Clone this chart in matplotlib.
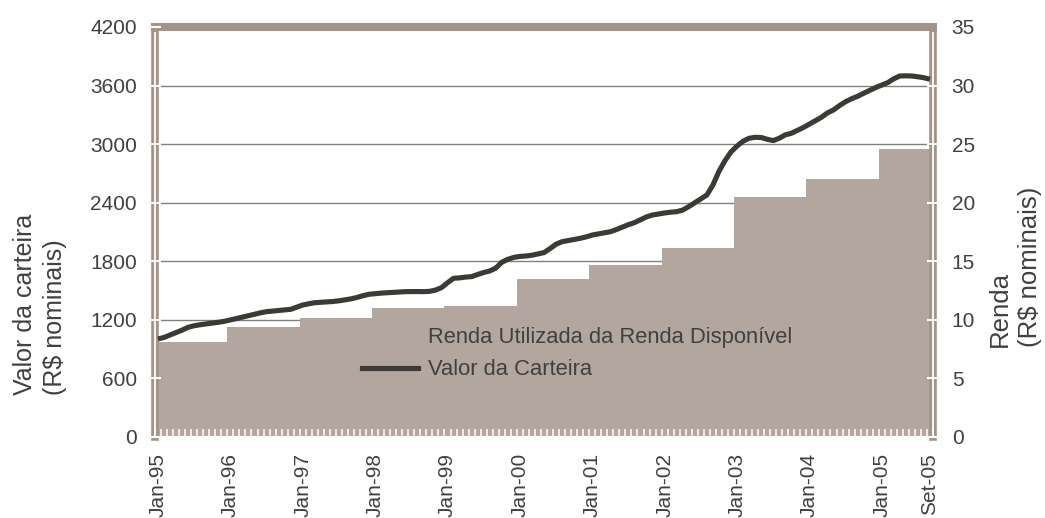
import numpy as np
import matplotlib
matplotlib.use('Agg')
import matplotlib.pyplot as plt
from matplotlib.lines import Line2D
from matplotlib.patches import Patch

plt.rcParams['font.family'] = ['Liberation Sans', 'DejaVu Sans']

# ---------------- data ----------------
valor_carteira = [
    # 1995
    1004, 1020, 1045, 1069, 1095, 1124, 1140, 1150, 1158, 1165, 1175, 1185,
    # 1996
    1199, 1212, 1228, 1243, 1258, 1272, 1284, 1290, 1296, 1302, 1308, 1330,
    # 1997
    1352, 1365, 1376, 1380, 1384, 1388, 1395, 1405, 1415, 1430, 1448, 1462,
    # 1998
    1468, 1474, 1478, 1482, 1486, 1489, 1490, 1490, 1489, 1492, 1505, 1530,
    # 1999
    1580, 1626, 1630, 1638, 1643, 1665, 1685, 1701, 1730, 1790, 1820, 1840,
    # 2000
    1850, 1854, 1862, 1875, 1889, 1930, 1975, 2001, 2012, 2022, 2035, 2050,
    # 2001
    2069, 2080, 2092, 2103, 2125, 2150, 2175, 2196, 2225, 2255, 2274, 2285,
    # 2002
    2295, 2303, 2308, 2325, 2360, 2400, 2440, 2479, 2580, 2720, 2830, 2920,
    # 2003
    2980, 3030, 3060, 3070, 3068, 3050, 3036, 3060, 3095, 3111, 3140, 3170,
    # 2004
    3205, 3240, 3275, 3320, 3350, 3395, 3435, 3465, 3490, 3521, 3550, 3580,
    # 2005 (Jan-Set)
    3605, 3630, 3670, 3698, 3700, 3698, 3690, 3680, 3665,
]
renda_anual = [8.1, 9.4, 10.2, 11.05, 11.2, 13.5, 14.7, 16.1, 20.5, 22.0, 24.55]
meses_por_ano = [12, 12, 12, 12, 12, 12, 12, 12, 12, 12, 9]
tick_pos = [0, 12, 24, 36, 48, 60, 72, 84, 96, 108, 120, 128]
tick_labels = ['Jan-95', 'Jan-96', 'Jan-97', 'Jan-98', 'Jan-99', 'Jan-00',
               'Jan-01', 'Jan-02', 'Jan-03', 'Jan-04', 'Jan-05', 'Set-05']
left_ticks = [0, 600, 1200, 1800, 2400, 3000, 3600, 4200]
right_ticks = [0, 5, 10, 15, 20, 25, 30, 35]

renda_mensal = np.repeat(renda_anual, meses_por_ano)
x = np.arange(len(valor_carteira))
edges = np.arange(len(x) + 1) - 0.5

# ---------------- style ----------------
BAR = '#B2A69E'
BORDER = '#A39489'
LINE = '#3B3B36'
TXT = '#404040'
FS = 15

W, H = 1045, 518
fig = plt.figure(figsize=(W / 100, H / 100), dpi=100)
L, R, T, B = 155, 933, 27, 437
ax = fig.add_axes([L / W, 1 - B / H, (R - L) / W, (B - T) / H])
ax2 = ax.twinx()
ax.set_zorder(2)
ax2.set_zorder(1)
ax.patch.set_visible(False)

# monthly columns (right axis), drawn as contiguous stairs
ax2.stairs(renda_mensal, edges, fill=True, color=BAR, linewidth=0, zorder=1)
for v in right_ticks[1:-1]:
    ax2.axhline(v, color='#808080', lw=1.0, zorder=0.5)
ax2.set_ylim(0, 35)
ax2.set_yticks(right_ticks)
ax2.set_axisbelow(False)

# line (left axis)
ax.plot(x, valor_carteira, color=LINE, lw=3.7, solid_capstyle='butt', zorder=3)
ax.set_ylim(0, 4200)
ax.set_yticks(left_ticks)
ax.set_xlim(-0.5, len(x) - 0.5)
ax.set_axisbelow(False)

ax.set_xticks(tick_pos)
ax.set_xticklabels(tick_labels, rotation=90)
ax.set_xticks(edges, minor=True)
ax.tick_params(axis='x', which='major', length=0, pad=11.5, labelsize=FS, labelcolor=TXT)
ax.tick_params(axis='x', which='minor', direction='in', length=6, width=1.1, color='white')
ax.tick_params(axis='y', direction='inout', length=8, width=1.5, color='white',
               pad=9, labelsize=FS, labelcolor=TXT)
ax2.tick_params(axis='y', direction='inout', length=8, width=1.5, color='white',
                pad=9.5, labelsize=FS, labelcolor=TXT)

# spines
for s in ax.spines.values():
    s.set_zorder(2)
for s in ax2.spines.values():
    s.set_visible(False)
ax.spines['right'].set_visible(False)
ax.spines['left'].set_color(BORDER)
ax.spines['left'].set_linewidth(5.5)
ax.spines['top'].set_color(BORDER)
ax.spines['top'].set_linewidth(5.8)
ax.spines['bottom'].set_color('white')
ax.spines['bottom'].set_linewidth(1.5)
ax2.spines['right'].set_visible(True)
ax2.spines['right'].set_color(BORDER)
ax2.spines['right'].set_linewidth(5.5)
ax2.spines['right'].set_zorder(2)
ax.add_line(Line2D([0, 0], [0, 0.985], transform=ax.transAxes, color='white',
                   lw=1.3, zorder=2.1, clip_on=False))
ax2.add_line(Line2D([1, 1], [0, 0.985], transform=ax2.transAxes, color='white',
                    lw=1.3, zorder=2.1, clip_on=False))

# legend
handles = [Patch(facecolor=BAR, edgecolor='none'),
           Line2D([], [], color=LINE, lw=3.7)]
labels = ['Renda Utilizada da Renda Disponível', 'Valor da Carteira']
ax.legend(handles, labels, loc='upper left', bbox_to_anchor=(362 / W, 1 - 327 / H),
          bbox_transform=fig.transFigure, frameon=False, fontsize=15.8,
          handlelength=2.55, handletextpad=0.45, labelspacing=0.52, borderpad=0,
          borderaxespad=0, labelcolor=TXT)

# axis titles
fig.text(40 / W, 1 - 395 / H, 'Valor da carteira\n(R$ nominais)', rotation=90,
         ha='center', va='bottom', multialignment='left', fontsize=18,
         color=TXT, linespacing=1.35)
fig.text(1015 / W, 1 - 347 / H, 'Renda\n(R$ nominais)', rotation=90,
         ha='center', va='bottom', multialignment='left', fontsize=18.5,
         color=TXT, linespacing=1.3)

fig.savefig('out.png', dpi=100, facecolor='white')
